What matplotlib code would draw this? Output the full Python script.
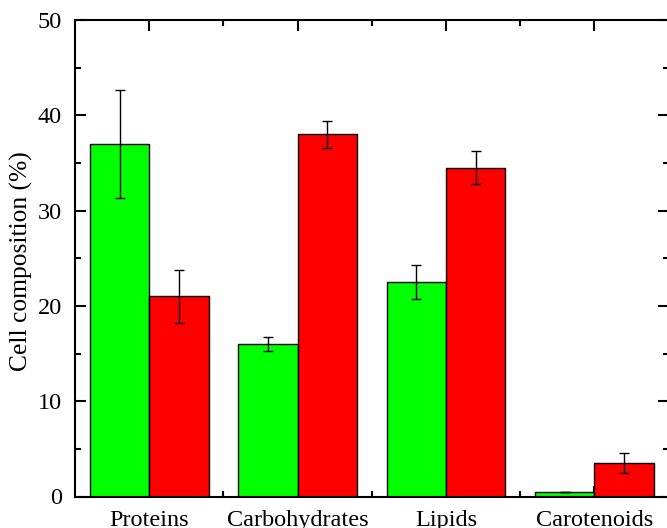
import matplotlib
matplotlib.use("Agg")
import matplotlib.pyplot as plt
import numpy as np
from matplotlib.ticker import MultipleLocator, FixedLocator

categories = ["Proteins", "Carbohydrates", "Lipids", "Carotenoids"]
green_vals = [37.0, 16.0, 22.5, 0.5]
green_err = [5.65, 0.7, 1.75, 0.0]
red_vals = [21.0, 38.0, 34.5, 3.5]
red_err = [2.8, 1.4, 1.75, 1.05]

plt.rcParams['font.family'] = ['Liberation Serif', 'DejaVu Serif']
plt.rcParams['mathtext.fontset'] = 'stix'

W, H = 667, 528
fig = plt.figure(figsize=(W / 100, H / 100), dpi=100)
ax = fig.add_axes([75 / W, (H - 496.5) / H, (668.5 - 75) / W, (496.5 - 20) / H])

x = np.arange(1, len(categories) + 1)
bw = 0.4
ax.bar(x - bw / 2, green_vals, bw, color='#00ff00', edgecolor='black', linewidth=1.0, zorder=2)
ax.bar(x + bw / 2, red_vals, bw, color='#ff0000', edgecolor='black', linewidth=1.0, zorder=2)
ax.errorbar(x - bw / 2, green_vals, yerr=green_err, fmt='none', ecolor='black',
            elinewidth=1.0, capsize=3.3, capthick=1.0, zorder=3)
ax.errorbar(x + bw / 2, red_vals, yerr=red_err, fmt='none', ecolor='black',
            elinewidth=1.0, capsize=3.3, capthick=1.0, zorder=3)

ax.set_xlim(0.5, 4.5)
ax.set_ylim(0, 50)
ax.xaxis.set_major_locator(FixedLocator(x))
ax.xaxis.set_minor_locator(FixedLocator(x[:-1] + 0.5))
ax.set_xticklabels(categories)
ax.yaxis.set_major_locator(MultipleLocator(10))
ax.yaxis.set_minor_locator(MultipleLocator(5))

for s in ax.spines.values():
    s.set_linewidth(1.5)
    s.set_zorder(4)

ax.tick_params(which='both', direction='in', top=True, right=True, width=1.5)
ax.tick_params(which='major', length=8, labelsize=17.5)
ax.tick_params(which='minor', length=4.5)
ax.tick_params(axis='y', which='major', pad=9.4)
ax.tick_params(axis='x', which='major', pad=10)

ax.set_ylabel("Cell composition (%)", fontsize=18.4)
ax.yaxis.set_label_coords((33 - 75) / (668.5 - 75), 0.494)

fig.savefig("out.png", dpi=100)
